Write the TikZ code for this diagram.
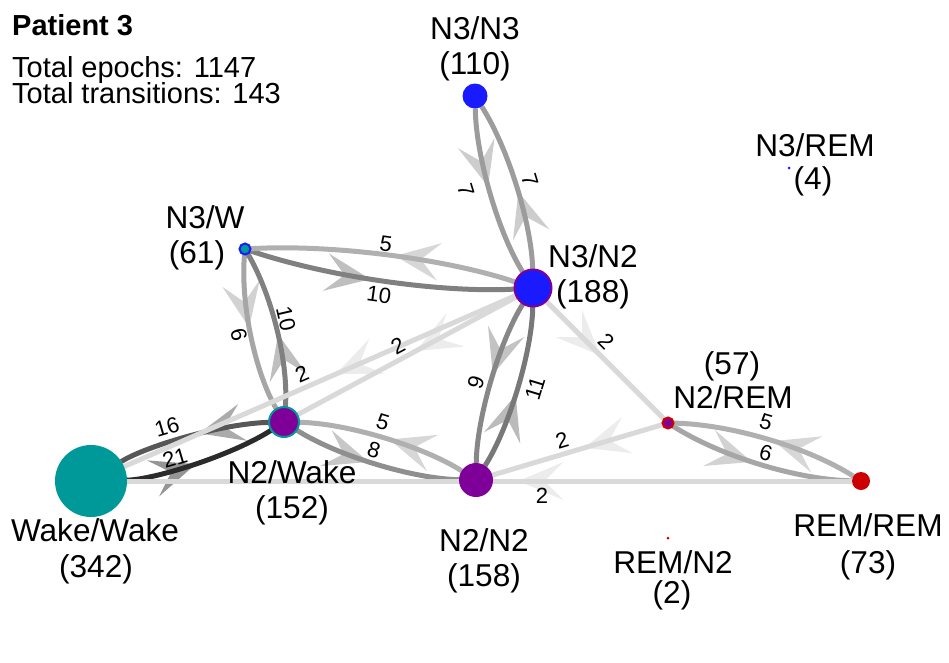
\documentclass[tikz,border=0pt]{standalone}
\usepackage{fontspec}
\setmainfont{Liberation Sans}
\usetikzlibrary{calc,decorations.markings,backgrounds}
\definecolor{cblue}{RGB}{26,26,255}
\definecolor{cpurple}{RGB}{127,0,153}
\definecolor{cteal}{RGB}{0,153,153}
\definecolor{cred}{RGB}{204,0,0}
\definecolor{g21}{gray}{0.17}
\definecolor{g16}{gray}{0.34}
\definecolor{g11}{gray}{0.47}
\definecolor{g10}{gray}{0.50}
\definecolor{g9}{gray}{0.53}
\definecolor{g8}{gray}{0.56}
\definecolor{g7}{gray}{0.61}
\definecolor{g6}{gray}{0.65}
\definecolor{g5}{gray}{0.69}
\definecolor{g2}{gray}{0.85}
\tikzset{
  state/.style={circle, inner sep=0pt, outer sep=0pt},
  nlab/.style={font=\fontsize{31.6}{32}\selectfont, anchor=base, inner sep=0pt},
  elab/.style={font=\fontsize{22}{22}\selectfont, inner sep=0pt},
  hdr/.style={font=\fontsize{29}{30}\selectfont, anchor=base west, inner sep=0pt},
  wedge/.style={line width=5pt, draw=#1,
    postaction={decorate, decoration={markings,
      mark=at position 0.46 with {\fill[#1, fill opacity=0.5] (0pt,0pt) -- (-45pt,19pt) -- (-26pt,0pt) -- (-45pt,-19pt) -- cycle;}}}},
}
\newcommand\cedge[3]{\draw[wedge=#3] (#1) .. controls ($(#1)!0.3!(#2)!17pt!-90:(#2)$) and ($(#1)!0.7!(#2)!17pt!-90:(#2)$) .. (#2);}
\newcommand\sedge[3]{\draw[wedge=#3] (#1) -- (#2);}
\begin{document}
\begin{tikzpicture}[x=1pt,y=-1pt]
\useasboundingbox (0,0) rectangle (949,662);
% header
\node[hdr, font=\fontsize{29}{30}\selectfont\bfseries] (title) at (12,35) {Patient 3};
\node[hdr] (epochs) at (12,77) {Total epochs: 1147};
\node[hdr] (trans) at (12,103) {Total transitions: 143};
% states
\node[state, fill=cteal, minimum size=72pt] (ww) at (91,481) {};
\node[state, fill=cpurple, draw=cteal, line width=2pt, minimum size=30pt] (n2w) at (284,422) {};
\node[state, fill=cpurple, minimum size=34pt] (n2n2) at (476,480) {};
\node[state, fill=cblue, draw=cpurple, line width=2pt, minimum size=37pt] (n3n2) at (533,288) {};
\node[state, fill=cblue, minimum size=25pt] (n3n3) at (475,96) {};
\node[state, fill=cteal, draw=cblue, line width=2pt, minimum size=11pt] (n3w) at (245,249) {};
\node[state, fill=cpurple, draw=cred, line width=2pt, minimum size=11pt] (n2rem) at (668,423) {};
\node[state, fill=cred, minimum size=18pt] (remrem) at (861,481) {};
\node[state, fill=cblue, minimum size=3pt] (n3rem) at (789,168) {};
\node[state, fill=cred, minimum size=3pt] (remn2) at (668,538) {};
% edges
\begin{scope}[on background layer]
\cedge{n3n3}{n3n2}{g7}
\cedge{n3n2}{n3n3}{g7}
\cedge{n3w}{n3n2}{g10}
\cedge{n3n2}{n3w}{g5}
\cedge{n3w}{n2w}{g6}
\cedge{n2w}{n3w}{g10}
\cedge{ww}{n2w}{g21}
\cedge{n2w}{ww}{g16}
\cedge{n2w}{n2n2}{g8}
\cedge{n2n2}{n2w}{g5}
\cedge{n3n2}{n2n2}{g9}
\cedge{n2n2}{n3n2}{g11}
\cedge{n2rem}{remrem}{g6}
\cedge{remrem}{n2rem}{g5}
\sedge{n3n2}{ww}{g2}
\sedge{n3n2}{n2w}{g2}
\sedge{n3n2}{n2rem}{g2}
\sedge{n2rem}{n2n2}{g2}
\sedge{remrem}{ww}{g2}
\end{scope}
% edge labels
\node[elab, rotate=-73] (e1) at (466,190) {7};
\node[elab, rotate=-73] (e2) at (530,180) {7};
\node[elab, rotate=-8] (e3) at (379,295) {10};
\node[elab, rotate=-8] (e4) at (386,244) {5};
\node[elab, rotate=-77] (e5) at (239,335) {6};
\node[elab, rotate=-77] (e6) at (286,319) {10};
\node[elab, rotate=16.5] (e7) at (175,458) {21};
\node[elab, rotate=16.5] (e8) at (167,427) {16};
\node[elab, rotate=-17] (e9) at (374,450) {8};
\node[elab, rotate=-17] (e10) at (383,422) {5};
\node[elab, rotate=73] (e11) at (476,382) {9};
\node[elab, rotate=73] (e12) at (535,388) {11};
\node[elab, rotate=-16.5] (e13) at (766,453) {6};
\node[elab, rotate=-16.5] (e14) at (766,422) {5};
\node[elab, rotate=23.4] (e15) at (302,374) {2};
\node[elab, rotate=28] (e16) at (398,346) {2};
\node[elab, rotate=-45] (e17) at (606,341) {2};
\node[elab, rotate=16.5] (e18) at (562,440) {2};
\node[elab] (e19) at (542,496) {2};
% state labels
\node[nlab] (l1a) at (475,39) {N3/N3};
\node[nlab] (l1b) at (475,74) {(110)};
\node[nlab] (l2a) at (815,156) {N3/REM};
\node[nlab] (l2b) at (813,189) {(4)};
\node[nlab] (l3a) at (205,228) {N3/W};
\node[nlab] (l3b) at (197,263) {(61)};
\node[nlab] (l4a) at (593,267) {N3/N2};
\node[nlab] (l4b) at (593,302) {(188)};
\node[nlab] (l5a) at (732,374) {(57)};
\node[nlab] (l5b) at (733,408) {N2/REM};
\node[nlab] (l6a) at (292,483) {N2/Wake};
\node[nlab] (l6b) at (292,518) {(152)};
\node[nlab] (l7a) at (95,541) {Wake/Wake};
\node[nlab] (l7b) at (96,577) {(342)};
\node[nlab] (l8a) at (484,551) {N2/N2};
\node[nlab] (l8b) at (484,586) {(158)};
\node[nlab] (l9a) at (868,536) {REM/REM};
\node[nlab] (l9b) at (868,573) {(73)};
\node[nlab] (l10a) at (673,573) {REM/N2};
\node[nlab] (l10b) at (672,603) {(2)};
\end{tikzpicture}
\end{document}
